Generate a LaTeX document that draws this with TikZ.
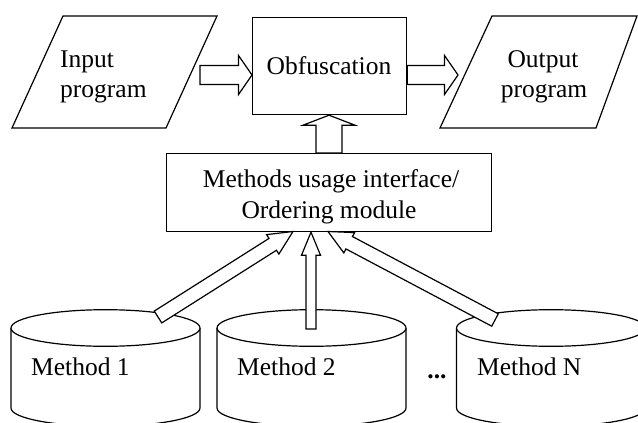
\documentclass[tikz,border=0pt]{standalone}
\usepackage{fontspec}
\setmainfont{Liberation Serif}
\usetikzlibrary{calc}
\tikzset{
  shapeline/.style={draw=black, line width=1.2pt, line join=miter},
  blk/.style={draw=black, fill=white, line width=1.2pt, line join=miter},
  lbl/.style={inner sep=0pt, anchor=base, font=\fontsize{25.5}{30}\selectfont},
  lblw/.style={lbl, anchor=base west},
  boxnode/.style={draw=black, line width=1.2pt, inner sep=0pt, anchor=north west}
}
\newcommand\blkarrow[5]{%
  \coordinate (bh) at ($(#2)!#5!(#1)$);
  \draw[blk] ($(#1)!#3!90:(#2)$) -- ($(bh)!#3!90:(#2)$) -- ($(bh)!#4!90:(#2)$)
    -- (#2) -- ($(bh)!#4!-90:(#2)$) -- ($(bh)!#3!-90:(#2)$) -- ($(#1)!#3!-90:(#2)$) -- cycle;
}
\begin{document}
\begin{tikzpicture}[x=1pt, y=-1pt]
\useasboundingbox (0,0) rectangle (638,423);
\clip (0,0) rectangle (638,423);
\fill[white] (0,0) rectangle (638,423);

% parallelograms
\draw[shapeline] (63,16) -- (217,16) -- (166,128) -- (12,128) -- cycle;
\node[lblw] (in1) at (60,67) {Input};
\node[lblw] (in2) at (60,97) {program};
\draw[shapeline] (492,16) -- (637,16) -- (596,128) -- (440,128) -- cycle;
\node[lbl] (out1) at (543,67) {Output};
\node[lbl] (out2) at (544,97) {program};

% boxes
\node[boxnode, minimum width=154pt, minimum height=97pt] (obf) at (252,17) {};
\node[lbl] (obft) at (329,74) {Obfuscation};
\node[boxnode, minimum width=325pt, minimum height=78pt] (mui) at (166,153) {};
\node[lbl] (muit1) at (331,187) {Methods usage interface/};
\node[lbl] (muit2) at (329,218) {Ordering module};

% cylinders
\foreach \cx/\nm in {105.5/cylA, 311.5/cylB, 551/cylN}{
  \draw[shapeline, fill=white] (\cx-94.5,328) -- (\cx-94.5,408)
     arc[start angle=180, end angle=0, x radius=94.5, y radius=18.3]
     -- (\cx+94.5,328);
  \draw[shapeline, fill=white] (\cx,328) ellipse[x radius=94.5, y radius=18.3];
  \coordinate (\nm) at (\cx,328);
}
\node[lblw] (m1) at (31,375) {Method 1};
\node[lblw] (m2) at (237,375) {Method 2};
\node[lblw] (mN) at (477,375) {Method N};
\node[lbl, font=\fontsize{25.5}{30}\selectfont\bfseries] (dots) at (437,378) {...};

% connector coordinates
\coordinate (inTail) at (200,75);
\coordinate (inTip) at (obf.west |- inTail);
\coordinate (outTail) at (obf.east |- inTail);
\coordinate (outTip) at (458,75);
\coordinate (upTail) at (mui.north -| 329,0);
\coordinate (upTip) at (obf.south -| 329,0);
\coordinate (aTail) at (158,317);
\coordinate (aTip) at (293,231.5);
\coordinate (bTail) at (311,329);
\coordinate (bTip) at (mui.south -| bTail);
\coordinate (nTail) at (495,320);
\coordinate (nTip) at (328,231.5);

\blkarrow{inTail}{inTip}{9.5pt}{19.5pt}{13.5pt}
\blkarrow{outTail}{outTip}{9.5pt}{19.5pt}{13.5pt}
\blkarrow{upTail}{upTip}{13pt}{26pt}{10pt}
\blkarrow{aTail}{aTip}{7pt}{11.5pt}{24pt}
\blkarrow{bTail}{bTip}{5pt}{9.5pt}{23pt}
\blkarrow{nTail}{nTip}{7pt}{11.5pt}{24pt}
\end{tikzpicture}
\end{document}
